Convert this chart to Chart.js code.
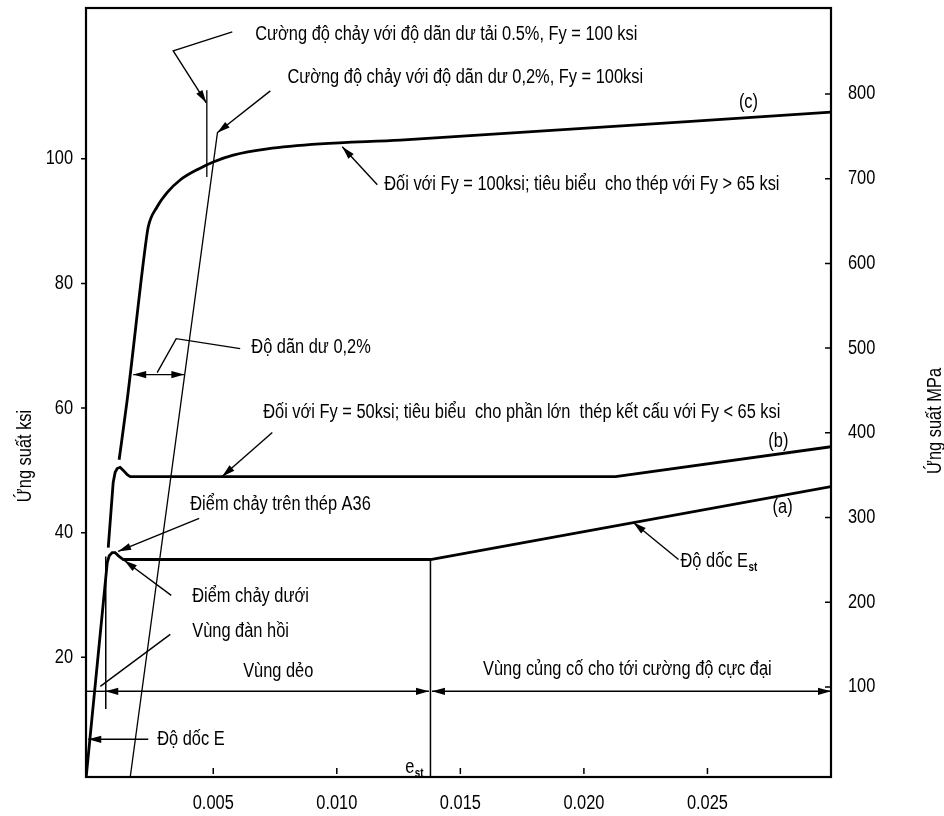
<!DOCTYPE html>
<html>
<head>
<meta charset="utf-8">
<style>
  html, body { margin: 0; padding: 0; background: #fff; }
</style>
<script src="https://cdn.jsdelivr.net/npm/chart.js@4.4.1/dist/chart.umd.min.js"></script>
</head>
<body>
<canvas id="myChart" width="944" height="816"></canvas>
<script>
// tick labels
const xTicks = [0.005, 0.010, 0.015, 0.020, 0.025];
const ksiTicks = [20, 40, 60, 80, 100];
const mpaTicks = [100, 200, 300, 400, 500, 600, 700, 800];

// (a) A36 - strain / stress (ksi)
const strainA = [-0.00014, 0.00071, 0.00079, 0.00091, 0.00103, 0.00119, 0.00136, 0.01379, 0.030];
const stressA = [0.9, 35.2, 36.3, 36.8, 36.8, 36.2, 35.7, 35.7, 47.4];

// (b) Fy = 50 ksi
const strainB = [0.00075, 0.00095, 0.00103, 0.00111, 0.00123, 0.00136, 0.00152, 0.00164, 0.02128, 0.030];
const stressB = [37.6, 48.05, 49.7, 50.3, 50.5, 50.0, 49.3, 49.0, 49.0, 53.8];

// (c) Fy = 100 ksi
const strainC = [0.00119, 0.00152, 0.00225, 0.00237, 0.00273, 0.00314, 0.00366, 0.00447, 0.0050, 0.00581, 0.00719, 0.00933, 0.01257, 0.030];
const stressC = [51.7, 61.4, 85.9, 89.1, 92.3, 94.6, 96.6, 98.5, 99.5, 100.6, 101.6, 102.4, 103.0, 107.5];

// 0.2% offset line
const strainOffset = [0.00164, 0.00517];
const stressOffset = [0.8, 104.2];

// 0.5% extension marker
const strain05 = [0.00474, 0.00474];
const stress05 = [111.0, 97.1];

// elastic limit marker
const strainElastic = [0.00065, 0.00065];
const stressElastic = [36.2, 11.7];

// e_st marker
const strainEst = [0.01379, 0.01379];
const stressEst = [35.7, 0.8];

const pts = (xs, ys) => xs.map((x, i) => ({ x: x, y: ys[i] }));

// leader lines (strain, ksi); arrow at last point when arrow = true
const leaders = [
  { p: [[0.00577, 120.36], [0.00338, 117.32], [0.00472, 108.98]], arrow: true },
  { p: [[0.00731, 110.90], [0.00516, 104.17]], arrow: true },
  { p: [[0.01164, 95.83], [0.01022, 101.93]], arrow: true },
  { p: [[0.00609, 69.54], [0.00350, 71.14], [0.00273, 65.69]], arrow: false },
  { p: [[0.00739, 56.07], [0.00536, 49.02]], arrow: true },
  { p: [[0.00443, 42.29], [0.00115, 37.0]], arrow: true },
  { p: [[0.00330, 29.94], [0.00140, 35.55]], arrow: true },
  { p: [[0.00326, 23.69], [0.00043, 15.35]], arrow: false },
  { p: [[0.02383, 35.71], [0.02200, 41.64]], arrow: true }
];

// dimension lines: from, to, y, arrow at start / end
const dims = [
  { x0: -0.00015, x1: 0.00063, y: 14.55, a0: false, a1: false },
  { x0: 0.00063, x1: 0.01373, y: 14.55, a0: true, a1: true },
  { x0: 0.01385, x1: 0.0300, y: 14.55, a0: true, a1: true },
  { x0: 0.00176, x1: 0.00383, y: 65.37, a0: true, a1: true },
  { x0: 0.00237, x1: -0.00006, y: 6.85, a0: false, a1: true }
];

const labels = [
  { t: 'Cường độ chảy với độ dãn dư tải 0.5%, Fy = 100 ksi', x: 0.00670, y: 119.88 },
  { t: 'Cường độ chảy với độ dãn dư 0,2%, Fy = 100ksi', x: 0.00800, y: 112.99 },
  { t: '(c)', x: 0.02666, y: 108.98, c: true },
  { t: 'Đối với Fy = 100ksi; tiêu biểu  cho thép với Fy > 65 ksi', x: 0.01192, y: 95.83 },
  { t: 'Độ dãn dư 0,2%', x: 0.00654, y: 69.70 },
  { t: 'Đối với Fy = 50ksi; tiêu biểu  cho phần lớn  thép kết cấu với Fy < 65 ksi', x: 0.00702, y: 59.28 },
  { t: '(b)', x: 0.02787, y: 54.63, c: true },
  { t: '(a)', x: 0.02804, y: 44.05, c: true },
  { t: 'Độ dốc E', sub: 'st', x: 0.02391, y: 35.39 },
  { t: 'Điểm chảy trên thép A36', x: 0.00407, y: 44.53 },
  { t: 'Điểm chảy dưới', x: 0.00415, y: 29.78 },
  { t: 'Vùng đàn hồi', x: 0.00415, y: 24.17 },
  { t: 'Vùng dẻo', x: 0.00763, y: 17.76, c: true },
  { t: 'Vùng củng cố cho tới cường độ cực đại', x: 0.02176, y: 18.08, c: true },
  { t: 'Độ dốc E', x: 0.00273, y: 6.85 },
  { t: 'e', sub: 'st', x: 0.01277, y: 2.36 }
];

const FONT = '"Liberation Sans", Arial, sans-serif';
const NARROW = 0.82; // squeeze to look like Arial Narrow

// draws condensed text, returns its drawn width
function narrowText(ctx, str, x, y, align, font) {
  ctx.save();
  ctx.font = font;
  const w = ctx.measureText(str).width * NARROW;
  ctx.translate(x, y);
  ctx.scale(NARROW, 1);
  ctx.textAlign = align;
  ctx.textBaseline = 'middle';
  ctx.fillText(str, 0, 0);
  ctx.restore();
  return w;
}

function arrowHead(ctx, x0, y0, x1, y1) {
  const ang = Math.atan2(y1 - y0, x1 - x0);
  const len = 13, hw = 3.6;
  ctx.beginPath();
  ctx.moveTo(x1, y1);
  ctx.lineTo(x1 - len * Math.cos(ang) + hw * Math.sin(ang), y1 - len * Math.sin(ang) - hw * Math.cos(ang));
  ctx.lineTo(x1 - len * Math.cos(ang) - hw * Math.sin(ang), y1 - len * Math.sin(ang) + hw * Math.cos(ang));
  ctx.closePath();
  ctx.fill();
}

const annotations = {
  id: 'annotations',
  afterDatasetsDraw(chart) {
    const { ctx, chartArea: a, scales } = chart;
    const sx = v => scales.x.getPixelForValue(v);
    const sy = v => scales.y.getPixelForValue(v);
    const f20 = '20px ' + FONT;
    ctx.save();
    ctx.strokeStyle = '#000';
    ctx.fillStyle = '#000';
    ctx.lineWidth = 1.4;

    leaders.forEach(l => {
      ctx.beginPath();
      l.p.forEach((q, i) => i ? ctx.lineTo(sx(q[0]), sy(q[1])) : ctx.moveTo(sx(q[0]), sy(q[1])));
      ctx.stroke();
      if (l.arrow) {
        const n = l.p.length;
        arrowHead(ctx, sx(l.p[n - 2][0]), sy(l.p[n - 2][1]), sx(l.p[n - 1][0]), sy(l.p[n - 1][1]));
      }
    });

    dims.forEach(d => {
      const x0 = sx(d.x0), x1 = sx(d.x1), y = sy(d.y);
      ctx.beginPath(); ctx.moveTo(x0, y); ctx.lineTo(x1, y); ctx.stroke();
      if (d.a0) arrowHead(ctx, x1, y, x0, y);
      if (d.a1) arrowHead(ctx, x0, y, x1, y);
    });

    // frame
    ctx.lineWidth = 2.2;
    ctx.strokeRect(a.left, a.top, a.right - a.left, a.bottom - a.top);

    // tick marks
    ctx.lineWidth = 1.5;
    ctx.beginPath();
    ksiTicks.forEach(v => { const y = sy(v); ctx.moveTo(a.left - 5, y); ctx.lineTo(a.left, y); });
    mpaTicks.forEach(v => { const y = scales.y2.getPixelForValue(v); ctx.moveTo(a.right - 6, y); ctx.lineTo(a.right, y); });
    xTicks.forEach(v => { const x = sx(v); ctx.moveTo(x, a.bottom - 9); ctx.lineTo(x, a.bottom - 3); });
    ctx.stroke();

    // tick labels
    ksiTicks.forEach(v => narrowText(ctx, String(v), a.left - 13, sy(v), 'right', f20));
    mpaTicks.forEach(v => narrowText(ctx, String(v), a.right + 17, scales.y2.getPixelForValue(v), 'left', f20));
    xTicks.forEach(v => narrowText(ctx, v.toFixed(3), sx(v), a.bottom + 26, 'center', f20));

    // annotation text
    labels.forEach(l => {
      ctx.font = f20;
      const w = ctx.measureText(l.t).width * NARROW;
      let x = sx(l.x);
      const y = sy(l.y);
      if (l.c) x -= w / 2;
      narrowText(ctx, l.t, x, y, 'left', f20);
      if (l.sub) narrowText(ctx, l.sub, x + w + 0.5, y + 6, 'left', 'bold 12px ' + FONT);
    });

    // axis titles
    [[25, 456, 'Ứng suất ksi'], [935, 421, 'Ứng suất MPa']].forEach(t => {
      ctx.save();
      ctx.translate(t[0], t[1]);
      ctx.rotate(-Math.PI / 2);
      narrowText(ctx, t[2], 0, 0, 'center', f20);
      ctx.restore();
    });

    ctx.restore();
  }
};

const lineDs = (data, w, mode) => ({
  data: data,
  borderColor: '#000',
  borderWidth: w,
  pointRadius: 0,
  fill: false,
  tension: 0,
  cubicInterpolationMode: mode || 'default'
});

const hiddenTicks = { display: false };

new Chart(document.getElementById('myChart').getContext('2d'), {
  type: 'line',
  data: {
    datasets: [
      lineDs(pts(strainA, stressA), 2.8),
      lineDs(pts(strainB, stressB), 2.8),
      lineDs(pts(strainC, stressC), 2.8, 'monotone'),
      lineDs(pts(strainOffset, stressOffset), 1.3),
      lineDs(pts(strain05, stress05), 1.3),
      lineDs(pts(strainElastic, stressElastic), 1.5),
      lineDs(pts(strainEst, stressEst), 1.5)
    ]
  },
  options: {
    responsive: false,
    animation: false,
    devicePixelRatio: 1,
    layout: { padding: { top: 8, left: 0, right: 0, bottom: 0 } },
    plugins: { legend: { display: false }, tooltip: { enabled: false } },
    scales: {
      x: {
        type: 'linear',
        min: -0.00015,
        max: 0.030,
        afterBuildTicks: s => { s.ticks = xTicks.map(v => ({ value: v })); },
        afterFit: s => { s.height = 39; },
        grid: { display: false, drawTicks: false },
        border: { display: false },
        ticks: hiddenTicks
      },
      y: {
        position: 'left',
        min: 0.8,
        max: 124.2,
        afterBuildTicks: s => { s.ticks = ksiTicks.map(v => ({ value: v })); },
        afterFit: s => { s.width = 86; },
        grid: { display: false, drawTicks: false },
        border: { display: false },
        ticks: hiddenTicks
      },
      y2: {
        position: 'right',
        min: -6.3,
        max: 901.5,
        afterBuildTicks: s => { s.ticks = mpaTicks.map(v => ({ value: v })); },
        afterFit: s => { s.width = 113; },
        grid: { display: false, drawTicks: false },
        border: { display: false },
        ticks: hiddenTicks
      }
    }
  },
  plugins: [annotations]
});
</script>
</body>
</html>
